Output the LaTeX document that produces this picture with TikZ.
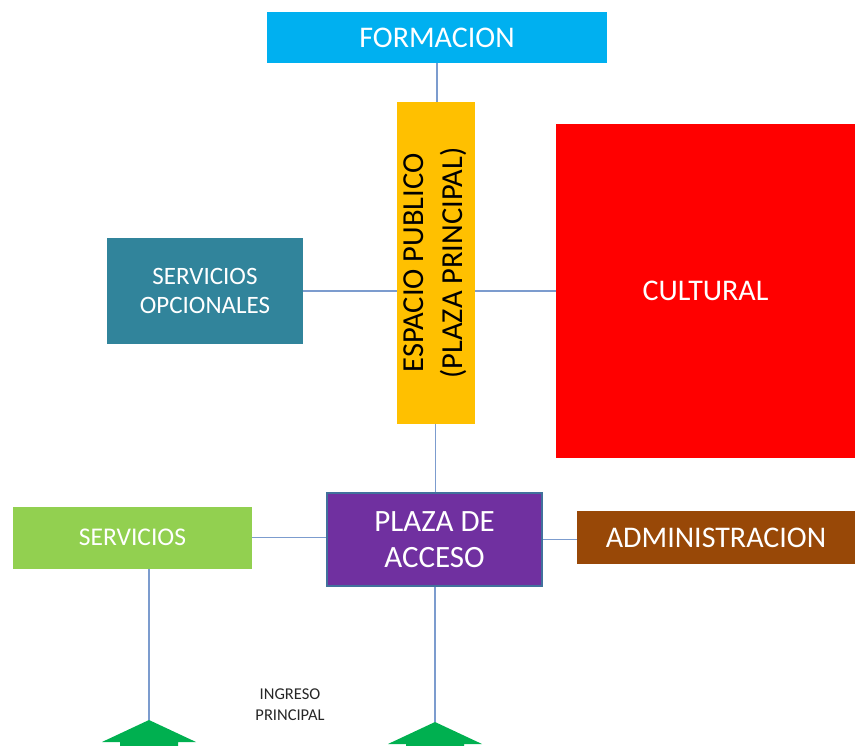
\documentclass[tikz,border=0pt]{standalone}
\usepackage{fontspec}
\setmainfont{Carlito}
\usetikzlibrary{backgrounds}

\definecolor{formCol}{HTML}{00B0F0}
\definecolor{espCol}{HTML}{FFC000}
\definecolor{cultCol}{HTML}{FF0000}
\definecolor{servOpCol}{HTML}{31849B}
\definecolor{servCol}{HTML}{92D050}
\definecolor{plazaCol}{HTML}{7030A0}
\definecolor{plazaEdge}{HTML}{41719C}
\definecolor{admCol}{HTML}{984807}
\definecolor{ingCol}{HTML}{00B050}
\definecolor{linkCol}{RGB}{124,156,206}

\tikzset{
	zone/.style={rectangle, inner sep=0pt, align=center, text=white},
	link/.style={draw=linkCol, line width=1.3pt}
}

\begin{document}
\begin{tikzpicture}[x=1pt, y=-1pt]

	\useasboundingbox (0,0) rectangle (855,746);
	\clip (0,0) rectangle (855,746);

	% --- Zones ---
	\node[zone, fill=formCol, minimum width=340, minimum height=51,
		font=\fontsize{30}{36}\selectfont] (formacion) at (437,37.5) {FORMACION};
	\node[zone, fill=espCol, text=black, minimum width=77, minimum height=322,
		font=\fontsize{30.5}{39}\selectfont] (espacio) at (435.5,263)
		{\rotatebox{90}{\begin{tabular}{@{}c@{}}ESPACIO PUBLICO\\(PLAZA PRINCIPAL)\end{tabular}}};
	\node[zone, fill=cultCol, minimum width=299, minimum height=334,
		font=\fontsize{30}{36}\selectfont] (cultural) at (705.5,291) {CULTURAL};
	\node[zone, fill=servOpCol, minimum width=196, minimum height=106,
		font=\fontsize{25}{29}\selectfont] (servop) at (205,291) {SERVICIOS\\OPCIONALES};

	\node[zone, fill=servCol, minimum width=239, minimum height=62,
		font=\fontsize{25.5}{30}\selectfont] (servicios) at (132.5,537.5) {SERVICIOS};
	\node[zone, fill=plazaCol, draw=plazaEdge, line width=1.3pt, minimum width=215, minimum height=93,
		font=\fontsize{31}{36}\selectfont] (plaza) at (434.5,539.5) {PLAZA DE\\ACCESO};
	\node[zone, fill=admCol, minimum width=278, minimum height=53,
		font=\fontsize{30}{36}\selectfont] (admin) at (716,537.5) {ADMINISTRACION};

	\node[align=center, text=black!85, font=\fontsize{16.5}{21}\selectfont] (ingreso) at (290,705)
		{INGRESO\\PRINCIPAL};

	% --- Entry arrows ---
	\coordinate (ingA) at (149,720);
	\coordinate (ingB) at (435,722);
	\foreach \p in {ingA, ingB} {
		\fill[ingCol] (\p) -- ++(47,22) -- ++(-18,0) -- ++(0,20) -- ++(-58,0)
			-- ++(0,-20) -- ++(-18,0) -- cycle;
	}

	% --- Links ---
	\begin{scope}[on background layer]
		\draw[link] (formacion.south) -- (formacion.south |- espacio.north);
		\draw[link] (servop.east) -- (cultural.west);
		\draw[link] (espacio.south) -- (espacio.south |- plaza.north);
		\draw[link] (servicios.east) -- (servicios.east -| plaza.west);
		\draw[link] (plaza.east) -- (plaza.east -| admin.west);
		\draw[link] (servicios.south -| ingA) -- (ingA);
		\draw[link] (plaza.south -| ingB) -- (ingB);
	\end{scope}

\end{tikzpicture}
\end{document}
